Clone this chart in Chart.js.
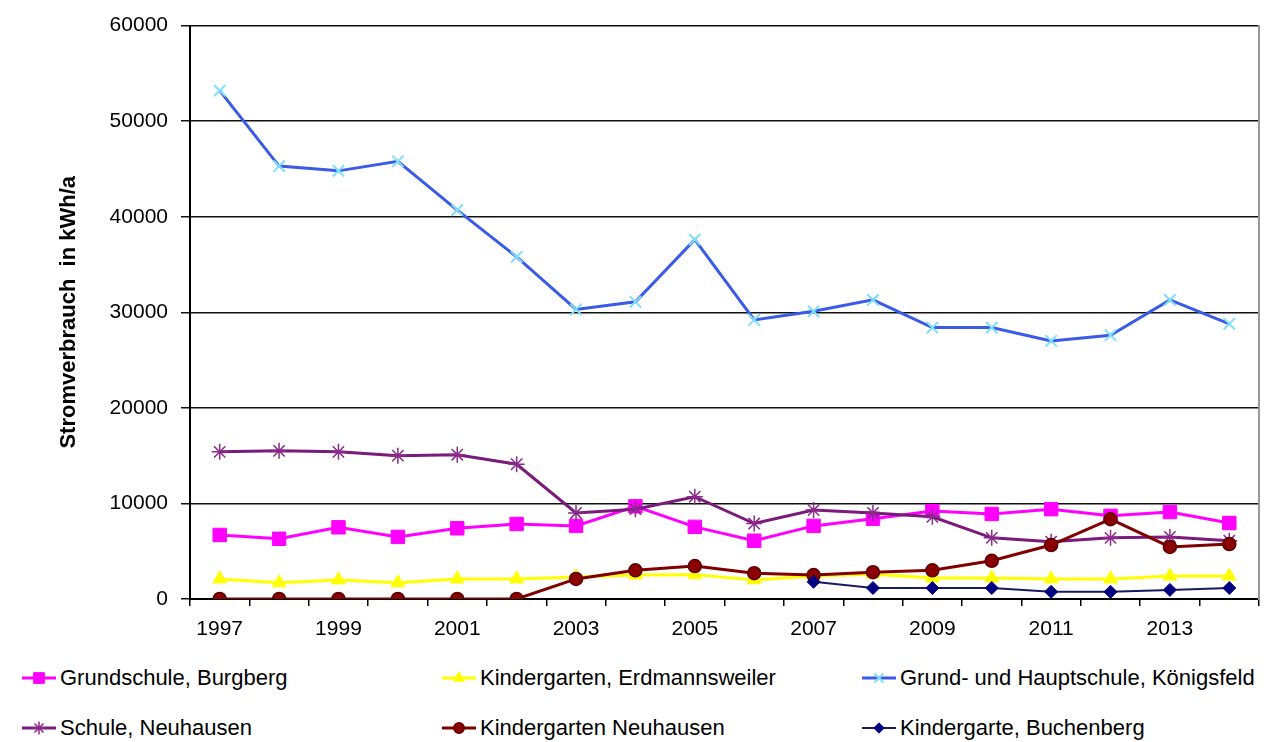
<!DOCTYPE html>
<html>
<head>
<meta charset="utf-8">
<script src="https://cdn.jsdelivr.net/npm/chart.js"></script>
<style>
    body { margin: 0; background: #fff; font-family: "Liberation Sans", Arial, sans-serif; }
    #wrap { position: relative; width: 1284px; height: 742px; }
    #chart { position: absolute; left: 0; top: 0; }
    .leg { position: absolute; display: flex; align-items: center; font-size: 22px; color: #000; white-space: nowrap; }
    .leg canvas { margin-right: 2px; }
</style>
</head>
<body>
<div id="wrap">
    <canvas id="chart" width="1284" height="650"></canvas>
    <div id="legend"></div>
</div>
<script>
const years = ["1997", "1998", "1999", "2000", "2001", "2002", "2003", "2004", "2005",
    "2006", "2007", "2008", "2009", "2010", "2011", "2012", "2013", "2014"];

// Stromverbrauch in kWh/a
const burgberg = [6700, 6300, 7500, 6500, 7400, 7850, 7650, 9700, 7550,
    6100, 7650, 8400, 9200, 8900, 9400, 8700, 9100, 7950];
const erdmannsweiler = [2100, 1700, 2000, 1700, 2100, 2100, 2300, 2500, 2550,
    2000, 2400, 2600, 2200, 2200, 2100, 2100, 2400, 2400];
const koenigsfeld = [53200, 45300, 44800, 45800, 40700, 35800, 30300, 31100, 37600,
    29200, 30100, 31300, 28400, 28400, 27000, 27600, 31300, 28800];
const schuleNeuhausen = [15400, 15500, 15400, 15000, 15100, 14100, 9000, 9400, 10700,
    7900, 9300, 9000, 8600, 6400, 6000, 6400, 6500, 6100];
const kigaNeuhausen = [0, 0, 0, 0, 0, 0, 2100, 3000, 3450,
    2700, 2500, 2800, 3000, 4000, 5650, 8350, 5450, 5750];
const buchenberg = [null, null, null, null, null, null, null, null, null,
    null, 1800, 1150, 1150, 1150, 750, 750, 950, 1150];

const seriesNames = ["Grundschule, Burgberg", "Kindergarten, Erdmannsweiler", "Grund- und Hauptschule, Königsfeld",
    "Schule, Neuhausen", "Kindergarten Neuhausen", "Kindergarte, Buchenberg"];

const styles = [
    { line: "#ff00ff", fill: "#ff00ff", border: "#ff00ff", point: "rect", r: 9.5, bw: 1, lw: 3 },
    { line: "#ffff00", fill: "#ffff00", border: "#ffff00", point: "triangle", r: 8, bw: 1, lw: 3 },
    { line: "#3a5ae8", fill: "#7fdfff", border: "#7fdfff", point: "crossRot", r: 8, bw: 2, lw: 3 },
    { line: "#7a1a7a", fill: "#7a1a7a", border: "#8a2a8a", point: "star", r: 8, bw: 1.5, lw: 3 },
    { line: "#800000", fill: "#8b0000", border: "#5a0000", point: "circle", r: 6.5, bw: 1.5, lw: 3 },
    { line: "#1a1a60", fill: "#000080", border: "#000080", point: "rectRot", r: 6.5, bw: 1, lw: 2 }
];

const allData = [burgberg, erdmannsweiler, koenigsfeld, schuleNeuhausen, kigaNeuhausen, buchenberg];

const datasets = allData.map((d, i) => ({
    label: seriesNames[i],
    data: d,
    borderColor: styles[i].line,
    borderWidth: styles[i].lw,
    backgroundColor: styles[i].fill,
    pointStyle: styles[i].point,
    pointRadius: styles[i].r,
    pointBackgroundColor: styles[i].fill,
    pointBorderColor: styles[i].border,
    pointBorderWidth: styles[i].bw,
    tension: 0,
    spanGaps: false,
    order: 6 - i // wie Excel: spätere Reihen oben
}));

new Chart(document.getElementById("chart"), {
    type: "line",
    data: { labels: years, datasets: datasets },
    options: {
        responsive: false,
        animation: false,
        layout: { padding: { top: 25, right: 25, left: 0, bottom: 0 } },
        plugins: { legend: { display: false }, tooltip: { enabled: false } },
        scales: {
            x: {
                offset: true,
                grid: { offset: true, drawOnChartArea: false, drawTicks: true, tickLength: 7, color: "#000", lineWidth: 1.5 },
                border: { color: "#000", width: 2 },
                ticks: {
                    autoSkip: false,
                    maxRotation: 0,
                    padding: 11,
                    color: "#000",
                    font: { family: "'Liberation Sans', Arial", size: 21 },
                    callback: (v, i) => (i % 2 === 0 ? years[i] : "")
                },
                afterFit: (s) => { s.height = 51; }
            },
            y: {
                min: 0,
                max: 60000,
                ticks: {
                    stepSize: 10000,
                    padding: 13,
                    color: "#000",
                    font: { family: "'Liberation Sans', Arial", size: 21 },
                    callback: (v) => String(v)
                },
                grid: { color: "#111", lineWidth: 1.5, tickLength: 9 },
                border: { color: "#000", width: 2 },
                title: {
                    display: true,
                    text: "Stromverbrauch  in kWh/a",
                    color: "#000",
                    font: { family: "'Liberation Sans', Arial", size: 22, weight: "bold" },
                    padding: { top: 56, bottom: 0 }
                },
                afterFit: (s) => { s.width = 190; }
            },
            y2: {
                position: "right",
                min: 0,
                max: 60000,
                ticks: { display: false },
                grid: { drawOnChartArea: false, drawTicks: false },
                border: { color: "#999", width: 2 },
                afterFit: (s) => { s.width = 0; }
            }
        }
    }
});

// Legende als HTML, Symbole mit Chart.js-Helfer
const legendPos = [[20, 678], [440, 678], [860, 678], [20, 728], [440, 728], [860, 728]];
const legend = document.getElementById("legend");
seriesNames.forEach((name, i) => {
    const item = document.createElement("div");
    item.className = "leg";
    item.style.left = legendPos[i][0] + "px";
    item.style.top = (legendPos[i][1] - 14) + "px";
    item.style.height = "28px";
    const c = document.createElement("canvas");
    c.width = 38; c.height = 28;
    const ctx = c.getContext("2d");
    const st = styles[i];
    ctx.strokeStyle = st.line;
    ctx.lineWidth = st.lw;
    ctx.beginPath();
    ctx.moveTo(2, 14); ctx.lineTo(36, 14);
    ctx.stroke();
    ctx.fillStyle = st.fill;
    ctx.strokeStyle = st.border;
    ctx.lineWidth = st.bw;
    if (Chart.helpers && Chart.helpers.drawPoint) {
        Chart.helpers.drawPoint(ctx, { pointStyle: st.point, radius: st.r * 0.8, rotation: 0, borderWidth: st.bw }, 19, 14);
    }
    const t = document.createElement("span");
    t.textContent = name;
    item.appendChild(c);
    item.appendChild(t);
    legend.appendChild(item);
});
</script>
</body>
</html>
